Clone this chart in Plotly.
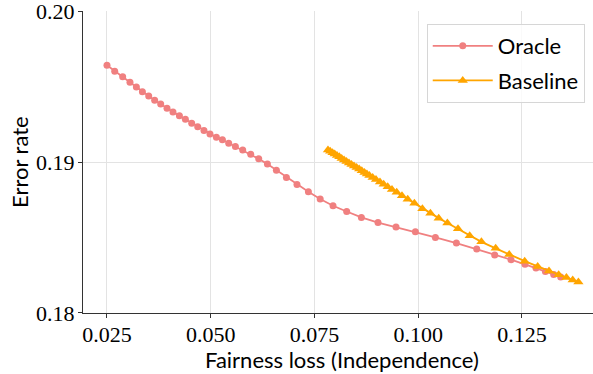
import plotly.graph_objects as go

oracle_x = [0.0250, 0.02686, 0.02878, 0.03054, 0.03208, 0.03353, 0.03505, 0.03649, 0.03794, 0.03946,
            0.04090, 0.04245, 0.04389, 0.04541, 0.04686, 0.04837, 0.04982, 0.05136, 0.05281, 0.05433,
            0.05594, 0.05770, 0.05963, 0.06156, 0.06365, 0.06582, 0.06823, 0.07078, 0.07353, 0.07637,
            0.07946, 0.08276, 0.08630, 0.09030, 0.09464, 0.09931, 0.10413, 0.10919, 0.11409, 0.11842,
            0.12235, 0.12572, 0.12837, 0.13064, 0.13264, 0.13433]
oracle_y = [0.19641, 0.19601, 0.19565, 0.19528, 0.19497, 0.19466, 0.19438, 0.19409, 0.19385, 0.19356,
            0.19332, 0.19307, 0.19284, 0.19257, 0.19233, 0.19208, 0.19186, 0.19164, 0.19147, 0.19125,
            0.19102, 0.19080, 0.19052, 0.19021, 0.18986, 0.18946, 0.18897, 0.18851, 0.18803, 0.18755,
            0.18710, 0.18672, 0.18633, 0.18599, 0.18569, 0.18538, 0.18500, 0.18463, 0.18423, 0.18384,
            0.18353, 0.18322, 0.18298, 0.18275, 0.18255, 0.18238]

baseline_x = [0.07825, 0.07878, 0.07934, 0.07987, 0.08042, 0.08098, 0.08155, 0.08213, 0.08271, 0.08331,
              0.08392, 0.08452, 0.08515, 0.08577, 0.08640, 0.08705, 0.08763, 0.08823, 0.08902, 0.08982,
              0.09078, 0.09167, 0.09264, 0.09367, 0.09481, 0.09608, 0.09746, 0.09907, 0.10100, 0.10293,
              0.10493, 0.10702, 0.10958, 0.11240, 0.11522, 0.11866, 0.12192, 0.12565, 0.12878, 0.13151,
              0.13384, 0.13570, 0.13722, 0.13859]
baseline_y = [0.19080, 0.19071, 0.19062, 0.19053, 0.19043, 0.19034, 0.19024, 0.19014, 0.19004, 0.18994,
              0.18984, 0.18974, 0.18963, 0.18953, 0.18942, 0.18931, 0.18921, 0.18911, 0.18897, 0.18884,
              0.18867, 0.18852, 0.18836, 0.18818, 0.18799, 0.18777, 0.18754, 0.18726, 0.18691, 0.18660,
              0.18628, 0.18596, 0.18558, 0.18511, 0.18471, 0.18428, 0.18387, 0.18343, 0.18308, 0.18277,
              0.18253, 0.18234, 0.18218, 0.18205]

x_ticks = [0.025, 0.050, 0.075, 0.100, 0.125]
x_tick_labels = ["0.025", "0.050", "0.075", "0.100", "0.125"]
y_ticks = [0.18, 0.19, 0.20]
y_tick_labels = ["0.18", "0.19", "0.20"]
x_label = "Fairness loss (Independence)"
y_label = "Error rate"

fig = go.Figure()
fig.add_trace(go.Scatter(x=oracle_x, y=oracle_y, mode="lines+markers", name="Oracle", legendgroup="o",
                         line=dict(color="#F08080", width=1.8),
                         marker=dict(symbol="circle", size=7, color="#F08080")))
fig.add_trace(go.Scatter(x=baseline_x, y=baseline_y, mode="lines+markers", name="Baseline", legendgroup="b",
                         line=dict(color="#FFA500", width=1.8),
                         marker=dict(symbol="triangle-up", size=9, color="#FFA500")))

serif = "Liberation Serif"
sans = "Lato"

fig.update_layout(
    width=593, height=374,
    margin=dict(l=83, r=0, t=11, b=61, autoexpand=False),
    plot_bgcolor="white", paper_bgcolor="white",
    showlegend=True,
    legend=dict(x=0.674, y=0.957, xanchor="left", yanchor="top", tracegroupgap=3, itemwidth=60,
                bgcolor="rgba(255,255,255,0.8)", bordercolor="#d6d6d6", borderwidth=1,
                font=dict(family=sans, size=22, color="black")),
    xaxis=dict(range=[0.01922, 0.14211], tickvals=x_ticks, ticktext=x_tick_labels,
               showgrid=True, gridcolor="#e3e3e3", gridwidth=1,
               showline=True, linecolor="#333333", linewidth=1.2,
               ticks="outside", ticklen=4, tickcolor="#333333", ticklabelstandoff=-3,
               tickfont=dict(family=serif, size=22, color="black"),
               ticklabeloverflow="allow", automargin=False, zeroline=False),
    yaxis=dict(range=[0.179995, 0.200005], tickvals=y_ticks, ticktext=y_tick_labels,
               showgrid=True, gridcolor="#e3e3e3", gridwidth=1,
               showline=True, linecolor="#333333", linewidth=1.2,
               ticks="outside", ticklen=4, tickcolor="#333333", ticklabelstandoff=-1,
               tickfont=dict(family=serif, size=22, color="black"),
               ticklabeloverflow="allow", automargin=False, zeroline=False),
    annotations=[
        dict(text=x_label, x=0.508, y=-0.153, xref="paper", yref="paper",
             xanchor="center", yanchor="middle", showarrow=False,
             font=dict(family=sans, size=22, color="black")),
        dict(text=y_label, x=-0.1255, y=0.5, xref="paper", yref="paper", textangle=-90,
             xanchor="center", yanchor="middle", showarrow=False,
             font=dict(family=sans, size=22, color="black")),
    ],
)

fig.write_html("out.html", config={"displayModeBar": False},
               post_script="document.body.style.margin='0';")
